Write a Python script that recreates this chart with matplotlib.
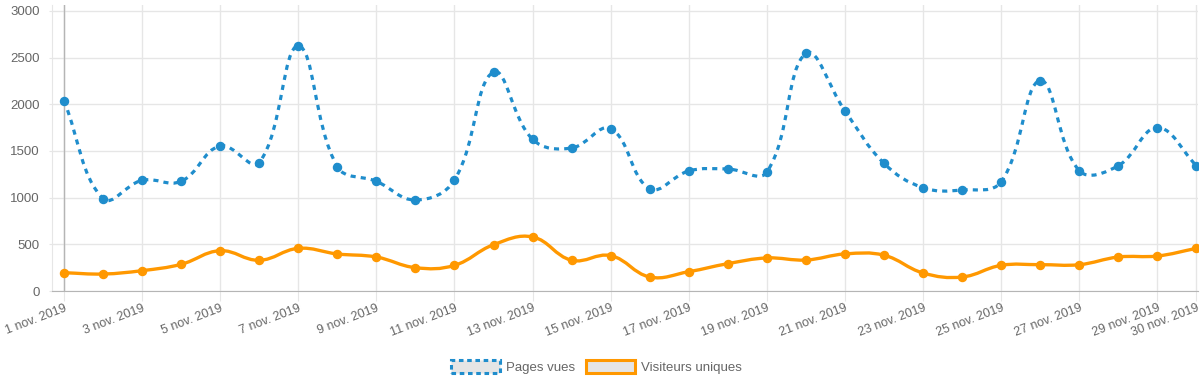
import matplotlib
matplotlib.use("Agg")
import matplotlib.pyplot as plt
import numpy as np
from matplotlib.path import Path
from matplotlib.patches import PathPatch, Patch

plt.rcParams['font.family'] = ['Liberation Sans', 'DejaVu Sans']

days = [f"{d} nov. 2019" for d in range(1, 31)]
pages_vues = [2040, 990, 1186, 1175, 1554, 1375, 2625, 1332, 1175, 975,
              1189, 2346, 1625, 1532, 1739, 1096, 1286, 1307, 1275, 2547,
              1929, 1368, 1107, 1082, 1171, 2254, 1289, 1343, 1750, 1343]
visiteurs = [196, 182, 218, 286, 432, 329, 457, 397, 364, 250,
             275, 496, 579, 329, 379, 150, 207, 293, 354, 332,
             397, 383, 193, 150, 275, 282, 282, 364, 375, 457]

blue = '#1f8dcc'
orange = '#ff9800'
grid_c = '#e6e6e6'
text_c = '#666666'

W, H = 1200, 381
fig = plt.figure(figsize=(W / 100, H / 100), dpi=100)
ax = fig.add_axes([52 / W, 1 - 291 / H, (1198 - 52) / W, (291 - 5) / H])
ax.set_xlim(-0.307, 29.04)
ax.set_ylim(0, 3064)


def spline_path(xs, ys, tension=0.4):
    # chart.js style bezier, control points computed in pixel space
    pts = ax.transData.transform(np.column_stack([xs, ys]))
    n = len(pts)
    verts = [pts[0]]
    codes = [Path.MOVETO]
    cps = []
    for i in range(n):
        p0 = pts[max(i - 1, 0)]
        p1 = pts[i]
        p2 = pts[min(i + 1, n - 1)]
        d01 = np.hypot(*(p1 - p0))
        d12 = np.hypot(*(p2 - p1))
        tot = d01 + d12
        s01 = d01 / tot if tot else 0
        s12 = d12 / tot if tot else 0
        cps.append((p1 - tension * s01 * (p2 - p0), p1 + tension * s12 * (p2 - p0)))
    for i in range(1, n):
        verts += [cps[i - 1][1], cps[i][0], pts[i]]
        codes += [Path.CURVE4] * 3
    verts = ax.transData.inverted().transform(np.array(verts))
    return Path(verts, codes)


x = np.arange(len(days))
ax.add_patch(PathPatch(spline_path(x, pages_vues), fill=False, edgecolor=blue,
                       lw=2.3, linestyle=(0, (1.6, 1.6)), zorder=3))
ax.plot(x, pages_vues, 'o', ms=5.8, color=blue, zorder=4)
ax.add_patch(PathPatch(spline_path(x, visiteurs), fill=False, edgecolor=orange,
                       lw=2.4, zorder=3))
ax.plot(x, visiteurs, 'o', ms=5.8, color=orange, zorder=4)

ticks = list(range(0, 30, 2)) + [29]
ax.set_xticks(ticks)
ax.set_xticklabels([days[i] for i in ticks], rotation=21, ha='right',
                   rotation_mode='anchor', color=text_c, fontsize=9)
ax.set_yticks(range(0, 3001, 500))
ax.set_yticklabels([str(v) for v in range(0, 3001, 500)], color=text_c, fontsize=9.5)
ax.tick_params(axis='x', length=7, color=grid_c, pad=1)
ax.tick_params(axis='y', length=2, color=grid_c, pad=7)
ax.grid(True, color=grid_c, lw=1)
ax.set_axisbelow(True)
for s in ['top', 'right']:
    ax.spines[s].set_visible(False)
ax.spines['left'].set_color(grid_c)
ax.spines['bottom'].set_color('#b5b5b5')
ax.axvline(0, color='#b5b5b5', lw=1, zorder=1)

handles = [Patch(facecolor='#e5e5e5', edgecolor=blue, lw=2.2, linestyle=(0, (1.5, 1.2))),
           Patch(facecolor='#e5e5e5', edgecolor=orange, lw=2.2)]
fig.legend(handles, ['Pages vues', 'Visiteurs uniques'], loc='center',
           bbox_to_anchor=(0.497, 1 - 367 / H), ncol=2, frameon=False,
           handlelength=3.7, handleheight=1.2, handletextpad=0.45,
           columnspacing=0.8, fontsize=9.5, labelcolor=text_c)

fig.savefig('out.png', dpi=100)
